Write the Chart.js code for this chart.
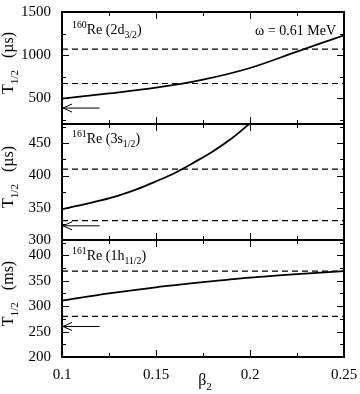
<!DOCTYPE html>
<html><head><meta charset="utf-8">
<script src="https://cdn.jsdelivr.net/npm/chart.js@4/dist/chart.umd.min.js"></script>
<style>
html,body{margin:0;padding:0;background:#fff;}
#wrap{position:relative;width:360px;height:394px;background:#fff;}
canvas{position:absolute;left:0;top:0;}
</style></head><body>
<div id="wrap">
<canvas id="c1" width="360" height="394"></canvas>
<canvas id="c2" width="360" height="394"></canvas>
<canvas id="c3" width="360" height="394"></canvas>
</div>
<script>
// ---- data ----
const beta = [0.1, 0.125, 0.15, 0.175, 0.2, 0.225, 0.25];
const re160_2d = [495, 555, 622, 715, 850, 1040, 1230];
const beta3s = [0.1, 0.11, 0.12, 0.13, 0.14, 0.15, 0.16, 0.17, 0.18, 0.19, 0.2];
const re161_3s = [348, 354, 361, 369, 379, 391, 404, 420, 437, 457, 481];
const re161_1h = [311, 325, 337, 347, 356, 363, 369];
const betaRange = [0.1, 0.25];
const limits160 = [1070, 670];
const limits161s = [410, 330];
const limits161h = [369, 280];
const arrowBeta = [0.1, 0.12];
const expt160 = 385;
const expt161s = 322;
const expt161h = 260;
const xTicks = [0.1, 0.15, 0.2, 0.25];
const yTicks1 = [500, 1000, 1500];
const yTicks2 = [300, 350, 400, 450];
const yTicks3 = [200, 250, 300, 350, 400];
const yRange1 = [200, 1500];
const yRange2 = [300, 480];
const yRange3 = [200, 430];

const SERIF = '"Liberation Serif", "DejaVu Serif", serif';

function pts(xs, ys) { return xs.map((x, i) => ({x: x, y: ys[i]})); }
function hline(v) { return betaRange.map(x => ({x: x, y: v})); }

function drawRich(ctx, x, y, parts, size) {
  let cx = x;
  for (const p of parts) {
    let fs = size, dy = 0;
    if (p.s === 'sup') { fs = size * 0.7; dy = -size * 0.45; }
    if (p.s === 'sub') { fs = size * 0.7; dy = size * 0.3; }
    ctx.font = fs + 'px ' + SERIF;
    ctx.fillText(p.t, cx, y + dy);
    cx += ctx.measureText(p.t).width;
  }
  return cx - x;
}
function richWidth(ctx, parts, size) {
  let w = 0;
  for (const p of parts) {
    const fs = p.s ? size * 0.7 : size;
    ctx.font = fs + 'px ' + SERIF;
    w += ctx.measureText(p.t).width;
  }
  return w;
}

function makeChart(id, cfg) {
  const deco = {
    id: 'deco' + id,
    afterDatasetsDraw(chart) {
      const ctx = chart.ctx, a = chart.chartArea;
      const xs = chart.scales.x, ys = chart.scales.y;
      ctx.save();
      ctx.strokeStyle = '#000'; ctx.fillStyle = '#000';
      ctx.lineWidth = 1;
      ctx.beginPath();
      const xMinor = [];
      for (let i = 0; i < xTicks.length - 1; i++) xMinor.push((xTicks[i] + xTicks[i + 1]) / 2);
      const xt = (v, len) => {
        const p = Math.round(xs.getPixelForValue(v)) + 0.5;
        ctx.moveTo(p, a.bottom); ctx.lineTo(p, a.bottom - len);
        ctx.moveTo(p, a.top); ctx.lineTo(p, a.top + len);
      };
      xTicks.forEach(v => xt(v, 7));
      xMinor.forEach(v => xt(v, 4));
      const step = cfg.yTicks[1] - cfg.yTicks[0];
      const minor = step / 2;
      for (let v = Math.ceil(cfg.yRange[0] / minor) * minor; v <= cfg.yRange[1]; v += minor) {
        const major = Math.abs(v / step - Math.round(v / step)) < 1e-6;
        const len = major ? 7 : 4;
        const p = Math.round(ys.getPixelForValue(v)) + 0.5;
        ctx.moveTo(a.left, p); ctx.lineTo(a.left + len, p);
        ctx.moveTo(a.right, p); ctx.lineTo(a.right - len, p);
      }
      ctx.stroke();
      const ax = xs.getPixelForValue(arrowBeta[0]) + 1, ay = ys.getPixelForValue(cfg.expt);
      ctx.beginPath();
      ctx.moveTo(ax + 9, ay - 4); ctx.lineTo(ax, ay); ctx.lineTo(ax + 9, ay + 4);
      ctx.stroke();
      ctx.lineWidth = 2;
      ctx.strokeRect(a.left, a.top, a.right - a.left, a.bottom - a.top);
      ctx.textBaseline = 'alphabetic';
      ctx.textAlign = 'left';
      drawRich(ctx, a.left + 10, a.top + cfg.labelDy, cfg.label, 14);
      if (cfg.omega) {
        ctx.font = '14px ' + SERIF;
        ctx.textAlign = 'right';
        ctx.fillText(cfg.omega, a.right - 8, a.top + 23);
        ctx.textAlign = 'left';
      }
      const tsz = 16;
      const w = richWidth(ctx, cfg.ytitle, tsz);
      ctx.save();
      ctx.translate(13, (a.top + a.bottom) / 2 - 5);
      ctx.rotate(-Math.PI / 2);
      drawRich(ctx, -w / 2, 0, cfg.ytitle, tsz);
      ctx.restore();
      if (cfg.xtitle) {
        const parts = [{t: 'β'}, {t: '2', s: 'sub'}];
        const ww = richWidth(ctx, parts, 16);
        drawRich(ctx, (a.left + a.right) / 2 - ww / 2 + 2, 385, parts, 16);
      }
      ctx.restore();
    }
  };
  return new Chart(document.getElementById(id), {
    type: 'line',
    data: {datasets: cfg.datasets},
    options: {
      responsive: false, animation: false, devicePixelRatio: 1,
      layout: {padding: {top: cfg.top, right: 16, left: 0, bottom: 0}, autoPadding: false},
      plugins: {legend: {display: false}, tooltip: {enabled: false}},
      elements: {point: {radius: 0}},
      scales: {
        x: {
          type: 'linear', min: betaRange[0], max: betaRange[1],
          afterBuildTicks: s => { s.ticks = xTicks.map(v => ({value: v})); },
          afterFit: s => { s.height = cfg.xHeight; },
          grid: {display: false}, border: {display: false},
          ticks: {display: !!cfg.xtitle, color: '#000', padding: 1, maxRotation: 0, autoSkip: false,
            font: {family: SERIF, size: 15}, callback: v => String(v)}
        },
        y: {
          type: 'linear', min: cfg.yRange[0], max: cfg.yRange[1],
          afterBuildTicks: s => { s.ticks = cfg.yTicks.map(v => ({value: v})); },
          afterFit: s => { s.width = 62; },
          grid: {display: false}, border: {display: false},
          ticks: {color: '#000', padding: 3, autoSkip: false, font: {family: SERIF, size: 15},
            callback: v => String(v)}
        }
      }
    },
    plugins: [deco]
  });
}

function sets(curveX, curveY, lims, expt) {
  const ds = [
    {data: pts(curveX, curveY), borderColor: '#000', borderWidth: 1.8, cubicInterpolationMode: 'monotone', clip: 0}
  ];
  lims.forEach(v => ds.push({data: hline(v), borderColor: '#000', borderWidth: 1.2, borderDash: [6, 4]}));
  ds.push({data: arrowBeta.map(x => ({x: x, y: expt})), borderColor: '#000', borderWidth: 1});
  return ds;
}

makeChart('c1', {
  top: 6, xHeight: 394 - 124, yRange: yRange1, yTicks: yTicks1, expt: expt160,
  datasets: sets(beta, re160_2d, limits160, expt160),
  label: [{t: '160', s: 'sup'}, {t: 'Re (2d'}, {t: '3/2', s: 'sub'}, {t: ')'}], labelDy: 22,
  omega: 'ω = 0.61 MeV',
  ytitle: [{t: 'T'}, {t: '1/2', s: 'sub'}, {t: '   (µs)'}]
});
makeChart('c2', {
  top: 124, xHeight: 394 - 240, yRange: yRange2, yTicks: yTicks2, expt: expt161s,
  datasets: sets(beta3s, re161_3s, limits161s, expt161s),
  label: [{t: '161', s: 'sup'}, {t: 'Re (3s'}, {t: '1/2', s: 'sub'}, {t: ')'}], labelDy: 19,
  ytitle: [{t: 'T'}, {t: '1/2', s: 'sub'}, {t: '   (µs)'}]
});
makeChart('c3', {
  top: 240, xHeight: 394 - 357, yRange: yRange3, yTicks: yTicks3, expt: expt161h,
  datasets: sets(beta, re161_1h, limits161h, expt161h),
  label: [{t: '161', s: 'sup'}, {t: 'Re (1h'}, {t: '11/2', s: 'sub'}, {t: ')'}], labelDy: 20,
  ytitle: [{t: 'T'}, {t: '1/2', s: 'sub'}, {t: '   (ms)'}],
  xtitle: true
});
</script>
</body></html>
